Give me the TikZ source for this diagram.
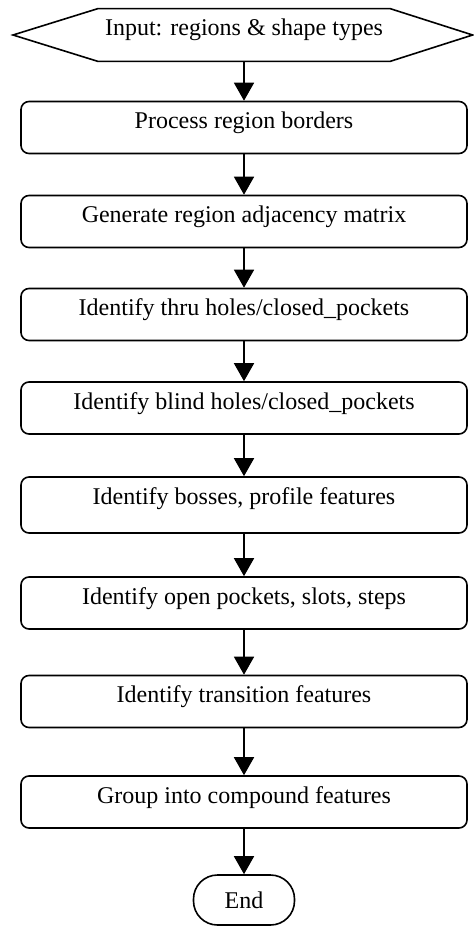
\documentclass[tikz,border=0pt]{standalone}
\usepackage{fontspec}
\setmainfont{Liberation Serif}
\usetikzlibrary{arrows.meta}
\tikzset{
  procbox/.style={draw, line width=0.8pt, rounded corners=4pt, minimum width=223pt, minimum height=26pt, inner ysep=1pt, text height=12.5pt, text depth=11.5pt},
  endbox/.style={draw, line width=0.8pt, rounded corners=12pt, minimum width=50.5pt, minimum height=25pt},
  flowarrow/.style={line width=0.8pt, -{Triangle[length=9pt,width=10pt]}}
}
\begin{document}
\begin{tikzpicture}[x=0.5pt,y=-0.5pt,font=\fontsize{12}{14}\selectfont]
\useasboundingbox (0,0) rectangle (473,926);
\node (input) at (244,35) [minimum width=137pt, minimum height=26pt, inner ysep=1pt, text height=12pt, text depth=12pt] {Input: regions \& shape types};
\draw [line width=0.8pt] (input.north west) -- (input.north east) -- (472.6,35) -- (input.south east) -- (input.south west) -- (13,35) -- cycle;
\node (borders) at (244,127.5) [procbox] {Process region borders};
\node (matrix) at (244,221.5) [procbox] {Generate region adjacency matrix};
\node (thru) at (244,314.5) [procbox] {Identify thru holes/closed\_pockets};
\node (blind) at (244,408) [procbox] {Identify blind holes/closed\_pockets};
\node (bosses) at (244,505) [procbox, minimum height=28pt, text depth=13.5pt] {Identify bosses, profile features};
\node (open) at (244,603) [procbox] {Identify open pockets, slots, steps};
\node (trans) at (244,701.5) [procbox] {Identify transition features};
\node (group) at (244,802) [procbox] {Group into compound features};
\node (end) at (244,900) [endbox] {End};
\draw [flowarrow] (input.south) -- (borders.north);
\draw [flowarrow] (borders.south) -- (matrix.north);
\draw [flowarrow] (matrix.south) -- (thru.north);
\draw [flowarrow] (thru.south) -- (blind.north);
\draw [flowarrow] (blind.south) -- (bosses.north);
\draw [flowarrow] (bosses.south) -- (open.north);
\draw [flowarrow] (open.south) -- (trans.north);
\draw [flowarrow] (trans.south) -- (group.north);
\draw [flowarrow] (group.south) -- (end.north);
\end{tikzpicture}
\end{document}
